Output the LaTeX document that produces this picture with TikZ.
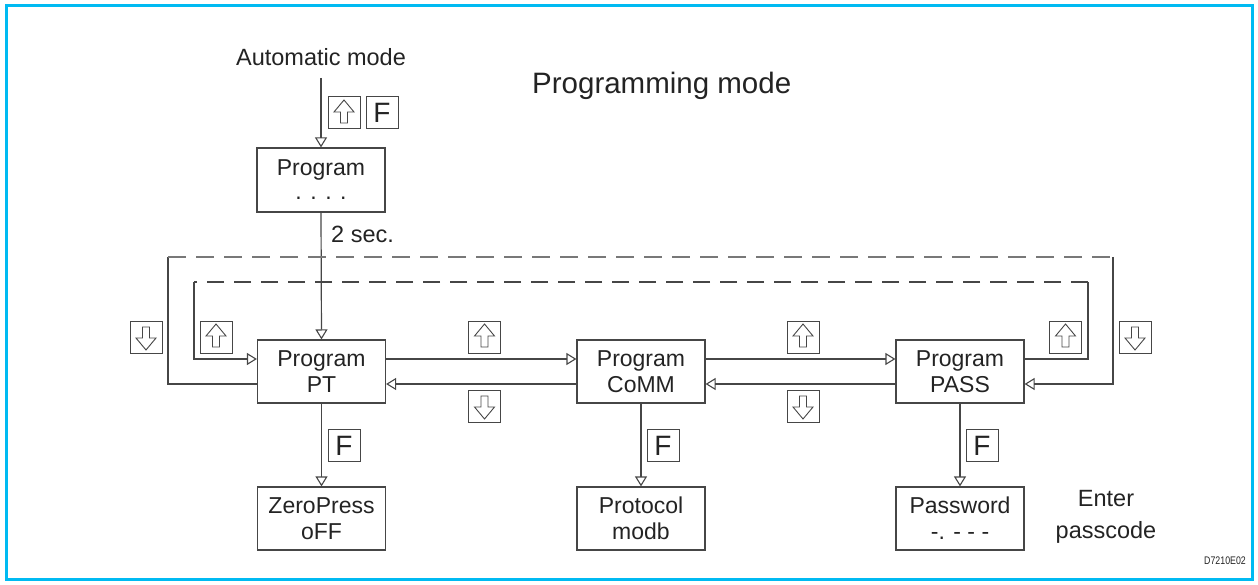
\documentclass[tikz,border=0pt]{standalone}
\usepackage{fontspec}
\setmainfont{Liberation Sans}
\usetikzlibrary{arrows.meta}
\definecolor{framec}{RGB}{0,186,242}
\definecolor{ln}{RGB}{70,70,70}
\definecolor{lnl}{RGB}{120,120,120}
\definecolor{txt}{RGB}{35,35,35}
\begin{document}
\begin{tikzpicture}[x=1pt,y=-1pt,
  box/.style={draw=ln, line width=1.2pt, minimum width=128pt, minimum height=63pt, inner sep=0pt, align=center, font=\fontsize{23}{26}\selectfont, text=txt},
  key/.style={draw=ln, line width=1pt, minimum size=32pt, inner sep=0pt, text=txt},
  keyf/.style={key, font=\fontsize{28}{28}\selectfont},
  keyup/.style={key, path picture={\draw[line width=0.9pt, draw=ln] (path picture bounding box.center) ++(0,-13) -- ++(10,12) -- ++(-6.5,0) -- ++(0,11) -- ++(-7,0) -- ++(0,-11) -- ++(-6.5,0) -- cycle;}},
  keydn/.style={key, path picture={\draw[line width=0.9pt, draw=ln] (path picture bounding box.center) ++(0,13) -- ++(10,-12) -- ++(-6.5,0) -- ++(0,-11) -- ++(-7,0) -- ++(0,11) -- ++(-6.5,0) -- cycle;}},
  lbl/.style={font=\fontsize{23.5}{27}\selectfont, text=txt, inner sep=0pt, align=center},
  conn/.style={draw=ln, line width=1.2pt},
  arr/.style={conn, -{Triangle[open, length=10pt, width=12pt, line width=1.1pt]}},
  dsh/.style={line width=1.2pt, dash pattern=on 18pt off 10pt}
]
\useasboundingbox (0,0) rectangle (1258,585);
\draw[framec, line width=3pt] (6,6) rectangle (1252,579);

% texts
\node[lbl] (auto) at (321,57) {Automatic mode};
\node[lbl, font=\fontsize{29.5}{32}\selectfont, anchor=base west] (title) at (532,94) {Programming mode};
\node[lbl, anchor=west] (twosec) at (331,234) {2 sec.};
\node[lbl] (enter) at (1106,517) {Enter\\[5pt]passcode};
\node[font=\fontsize{11}{11}\selectfont, text=txt, anchor=east, inner sep=0pt] (code) at (1246,561) {\scalebox{0.8}[1]{D7210E02}};

% boxes
\node[box, minimum height=64pt] (prog) at (321,180) {Program\\[-2pt]. . . .};
\node[box] (pt) at (321.5,371.5) {Program\\PT};
\node[box] (comm) at (641,371.5) {Program\\CoMM};
\node[box] (pass) at (960,371.5) {Program\\PASS};
\node[box] (zero) at (321.5,518.5) {ZeroPress\\oFF};
\node[box] (proto) at (641,518.5) {Protocol\\modb};
\node[box] (pwd) at (960,518.5) {Password\\-. - - -};

% keys
\node[keyup] (k1) at (344,113) {};
\node[keyf] (k2) at (382,113) {F};
\node[keydn] (k3) at (146,337) {};
\node[keyup] (k4) at (216,337) {};
\node[keyup] (k5) at (484.5,337) {};
\node[keydn] (k6) at (484.5,406) {};
\node[keyup] (k7) at (803,337) {};
\node[keydn] (k8) at (803,406) {};
\node[keyup] (k9) at (1065.5,337) {};
\node[keydn] (k10) at (1135,337) {};
\node[keyf] (k11) at (344,445.5) {F};
\node[keyf] (k12) at (663,445.5) {F};
\node[keyf] (k13) at (982,445.5) {F};

% coordinates for loops
\coordinate (autoend) at (321,78);
\coordinate (o1) at (168,257);
\coordinate (o2) at (1113,257);
\coordinate (i1) at (194,282);
\coordinate (i2) at (1088,282);

% connectors
\draw[arr] (autoend) -- (prog.north);
\draw[arr] (prog.south) -- (pt.north);
\draw[arr] ([yshift=12.5pt]pt.east) -- ([yshift=12.5pt]comm.west);
\draw[arr] ([yshift=12.5pt]comm.east) -- ([yshift=12.5pt]pass.west);
\draw[arr] ([yshift=-12.5pt]comm.west) -- ([yshift=-12.5pt]pt.east);
\draw[arr] ([yshift=-12.5pt]pass.west) -- ([yshift=-12.5pt]comm.east);
\draw[arr] (pt.south) -- (zero.north);
\draw[arr] (comm.south) -- (proto.north);
\draw[arr] (pass.south) -- (pwd.north);

% outer loop (down)
\draw[conn] ([yshift=-12.5pt]pt.west) -| (o1);
\draw[dsh, draw=lnl] (o1) -- (o2);
\draw[arr] (o2) |- ([yshift=-12.5pt]pass.east);

% inner loop (up)
\draw[conn] ([yshift=12.5pt]pass.east) -| (i2);
\draw[dsh, draw=ln, dash pattern=on 17pt off 10pt] (i2) -- (i1);
\draw[arr] (i1) |- ([yshift=12.5pt]pt.west);
\end{tikzpicture}
\end{document}
